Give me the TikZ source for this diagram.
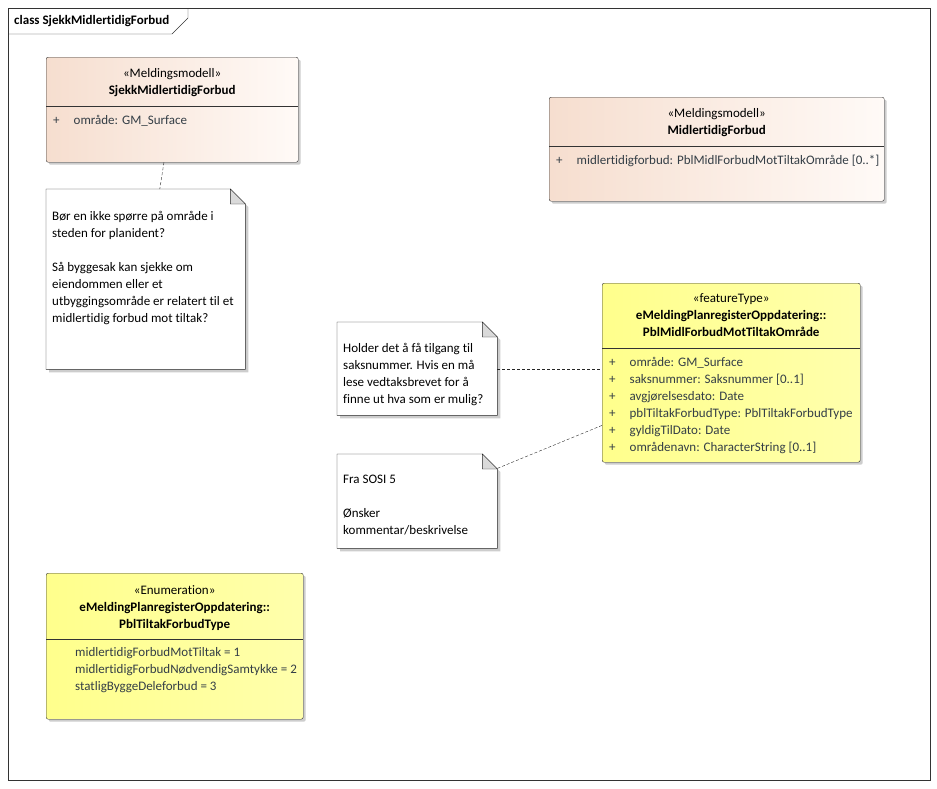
\documentclass[tikz,border=0pt]{standalone}
\usepackage{fontspec}
\setmainfont{Carlito}[Ligatures=NoCommon]
\usetikzlibrary{positioning,shadows}

\definecolor{peachL}{RGB}{246,222,207}
\definecolor{peachR}{RGB}{255,250,247}
\definecolor{featL}{RGB}{255,255,140}
\definecolor{featR}{RGB}{255,255,172}
\definecolor{attrcol}{RGB}{52,62,70}
\definecolor{foldgray}{RGB}{218,218,218}
\definecolor{shadowgray}{RGB}{205,205,205}

\tikzset{
  umlclass/.style={draw=black!80, rounded corners=2pt, anchor=north west, inner sep=0pt,
    drop shadow={shadow xshift=2.5pt, shadow yshift=-2.5pt, fill=shadowgray, opacity=1}},
  meldclass/.style={umlclass, left color=peachL, right color=peachR},
  featclass/.style={umlclass, left color=featL, right color=featR},
  notebox/.style={anchor=north west, inner sep=0pt},
  header/.style={anchor=north, align=center, inner sep=0pt, font=\fontsize{13}{17}\selectfont},
  attrs/.style={anchor=north west, inner sep=0pt, text=attrcol, font=\fontsize{13}{17}\selectfont},
  notetext/.style={anchor=north west, align=left, inner sep=0pt, font=\fontsize{13}{17}\selectfont},
  noteline/.style={draw=black!85, dash pattern=on 3pt off 2pt},
}

\begin{document}
\begin{tikzpicture}[x=1pt, y=-1pt]
  \useasboundingbox (0,0) rectangle (937,788);

  % frame
  \draw[black!80] (8,8) rectangle (930,780);
  \node[anchor=base west, inner sep=0pt, font=\fontsize{13}{15}\selectfont\bfseries] (title) at (14,24) {class SjekkMidlertidigForbud};
  \draw[black!80] (8,34) -- (172,34) -- (188,18) -- (188,8);

  % classes
  \node[meldclass, minimum width=252pt, minimum height=105pt] (sjekk) at (46,57) {};
  \node[meldclass, minimum width=335pt, minimum height=104pt] (midl) at (549,97) {};
  \node[featclass, minimum width=258pt, minimum height=179pt] (omr) at (602,283) {};
  \node[featclass, minimum width=257pt, minimum height=146pt] (enum) at (46,573) {};

  \draw[black!80] ([yshift=-49pt]sjekk.north west) -- ([yshift=-49pt]sjekk.north east);
  \draw[black!80] ([yshift=-49pt]midl.north west) -- ([yshift=-49pt]midl.north east);
  \draw[black!80] ([yshift=-65pt]omr.north west) -- ([yshift=-65pt]omr.north east);
  \draw[black!80] ([yshift=-66pt]enum.north west) -- ([yshift=-66pt]enum.north east);

  \node[header] (sjekkhead) at ([yshift=-11pt]sjekk.north) {«Meldingsmodell»\\\textbf{SjekkMidlertidigForbud}};
  \node[header] (midlhead) at ([yshift=-11pt]midl.north) {«Meldingsmodell»\\\textbf{MidlertidigForbud}};
  \node[header] (omrhead) at ([yshift=-10pt]omr.north) {«featureType»\\\textbf{eMeldingPlanregisterOppdatering::}\\\textbf{PblMidlForbudMotTiltakOmråde}};
  \node[header] (enumhead) at ([yshift=-12pt]enum.north) {«Enumeration»\\\textbf{eMeldingPlanregisterOppdatering::}\\\textbf{PblTiltakForbudType}};

  \node[attrs] (sjekkattr) at ([xshift=7pt, yshift=-55pt]sjekk.north west) {%
    \begin{tabular}{@{}l@{\hspace{14pt}}l@{}}
      + & område: GM\_Surface
    \end{tabular}};
  \node[attrs] (midlattr) at ([xshift=7pt, yshift=-55pt]midl.north west) {%
    \begin{tabular}{@{}l@{\hspace{14pt}}l@{}}
      + & midlertidigforbud: PblMidlForbudMotTiltakOmråde [0..*]
    \end{tabular}};
  \node[attrs] (omrattr) at ([xshift=7pt, yshift=-71pt]omr.north west) {%
    \begin{tabular}{@{}l@{\hspace{14pt}}l@{}}
      + & område: GM\_Surface\\
      + & saksnummer: Saksnummer [0..1]\\
      + & avgjørelsesdato: Date\\
      + & pblTiltakForbudType: PblTiltakForbudType\\
      + & gyldigTilDato: Date\\
      + & områdenavn: CharacterString [0..1]
    \end{tabular}};
  \node[attrs] (enumattr) at ([xshift=29pt, yshift=-71pt]enum.north west) {%
    \begin{tabular}{@{}l@{}}
      midlertidigForbudMotTiltak = 1\\
      midlertidigForbudNødvendigSamtykke = 2\\
      statligByggeDeleforbud = 3
    \end{tabular}};

  % notes
  \node[notebox, minimum width=199pt, minimum height=180pt] (n1) at (46,189) {};
  \node[notebox, minimum width=160pt, minimum height=93pt] (n2) at (337,322) {};
  \node[notebox, minimum width=160pt, minimum height=94pt] (n3) at (337,454) {};

  \foreach \n in {n1,n2,n3} {
    \fill[shadowgray] ([xshift=3pt, yshift=-3pt]\n.north west) -- ([xshift=-12pt, yshift=-3pt]\n.north east)
      -- ([xshift=3pt, yshift=-18pt]\n.north east) -- ([xshift=3pt, yshift=-3pt]\n.south east)
      -- ([xshift=3pt, yshift=-3pt]\n.south west) -- cycle;
    \draw[black!85, fill=white] (\n.north west) -- ([xshift=-15pt]\n.north east) -- ([yshift=-15pt]\n.north east)
      -- (\n.south east) -- (\n.south west) -- cycle;
    \draw[black!85, fill=foldgray] ([xshift=-15pt]\n.north east) -- ([yshift=-15pt]\n.north east)
      -- ([xshift=-15pt, yshift=-15pt]\n.north east) -- cycle;
  }

  \node[notetext] (n1text) at ([xshift=6pt, yshift=-22pt]n1.north west) {Bør en ikke spørre på område i\\steden for planident?\\[17pt]Så byggesak kan sjekke om\\eiendommen eller et\\utbyggingsområde er relatert til et\\midlertidig forbud mot tiltak?};
  \node[notetext] (n2text) at ([xshift=6pt, yshift=-21pt]n2.north west) {Holder det å få tilgang til\\saksnummer. Hvis en må\\lese vedtaksbrevet for å\\finne ut hva som er mulig?};
  \node[notetext] (n3text) at ([xshift=6pt, yshift=-21pt]n3.north west) {Fra SOSI 5\\[17pt]Ønsker\\kommentar/beskrivelse};

  % note links
  \draw[noteline] (sjekk) -- (n1);
  \draw[noteline] (n2.east) -- (n2.east -| omr.west);
  \draw[noteline] (n3) -- (omr);
\end{tikzpicture}
\end{document}
